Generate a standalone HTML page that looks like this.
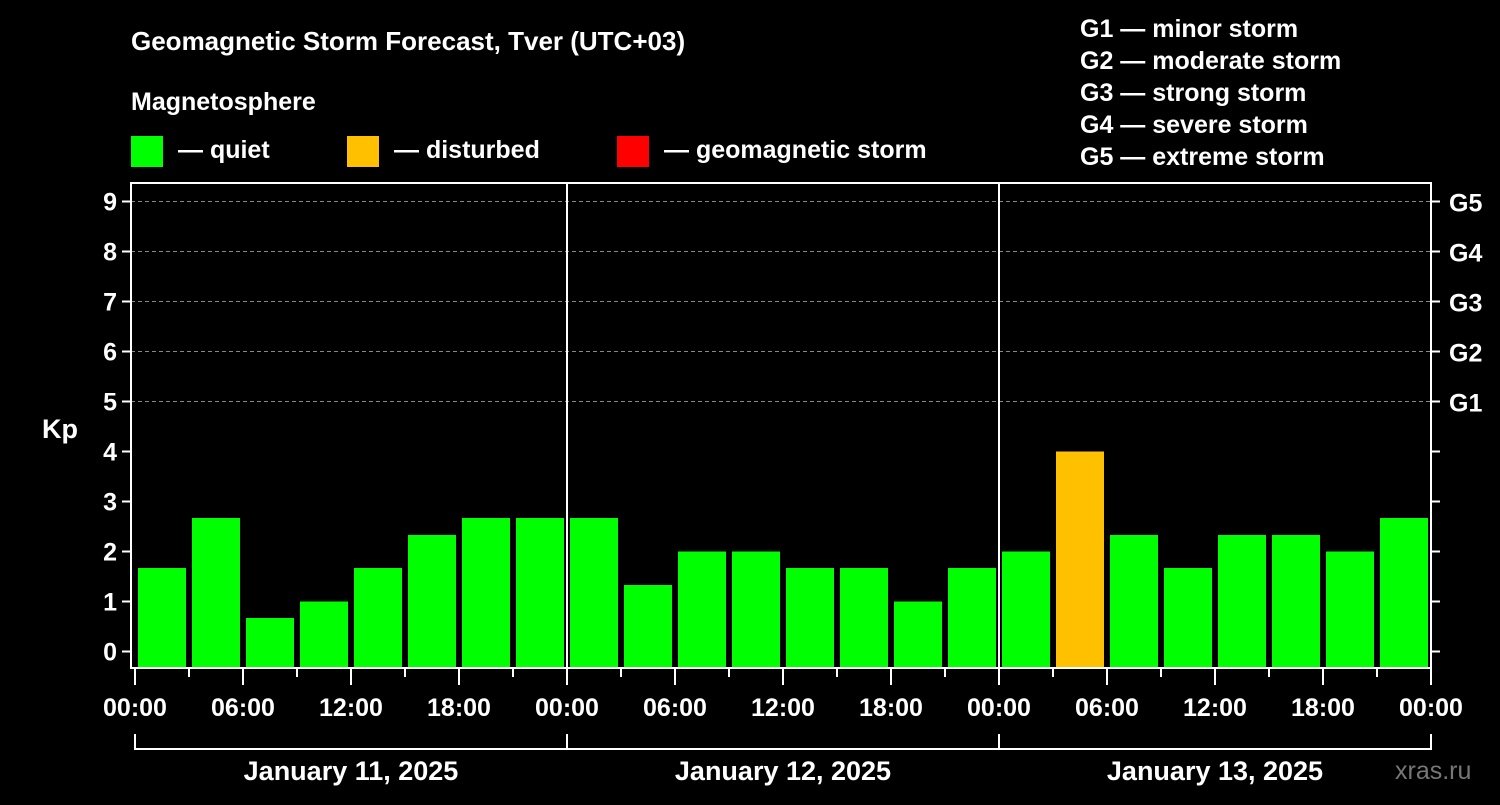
<!DOCTYPE html>
<html><head><meta charset="utf-8"><style>
body{margin:0;background:#000;width:1500px;height:800px;overflow:hidden}
svg text{font-family:"Liberation Sans",sans-serif;font-weight:bold;fill:#fff}
</style></head><body>
<svg id="c" width="1500" height="800">
<text x="131" y="50" font-size="26">Geomagnetic Storm Forecast, Tver (UTC+03)</text>
<text x="131" y="110" font-size="25">Magnetosphere</text>
<g>
<rect x="131" y="136" width="32" height="31" fill="#00ff00"/>
<text x="178" y="158" font-size="25">— quiet</text>
<rect x="347" y="136" width="32" height="31" fill="#ffc000"/>
<text x="394" y="158" font-size="25">— disturbed</text>
<rect x="617" y="136" width="32" height="31" fill="#ff0000"/>
<text x="664" y="158" font-size="25">— geomagnetic storm</text>
</g>
<g font-size="25">
<text x="1080" y="37">G1 — minor storm</text>
<text x="1080" y="69">G2 — moderate storm</text>
<text x="1080" y="101">G3 — strong storm</text>
<text x="1080" y="133">G4 — severe storm</text>
<text x="1080" y="165">G5 — extreme storm</text>
</g>
<text x="42" y="438" font-size="27">Kp</text>
<text x="1395" y="779" font-size="25" fill="#777" style="fill:#777;font-weight:normal">xras.ru</text>
<g id="plot"></g>
</svg>
<script>
const kpValues=[1.67,2.67,0.67,1,1.67,2.33,2.67,2.67, 2.67,1.33,2,2,1.67,1.67,1,1.67, 2,4,2.33,1.67,2.33,2.33,2,2.67];
const dayLabels=["January 11, 2025","January 12, 2025","January 13, 2025"];
const timeLabels=["00:00","06:00","12:00","18:00"];
const yTicks=[0,1,2,3,4,5,6,7,8,9];
const gLabels=["G1","G2","G3","G4","G5"];
const NS="http://www.w3.org/2000/svg";
const L=131,R=1431,T=183,B=668;
const x=h=>135+h*18;
const y=v=>651.5-v*50;
const g=document.getElementById('plot');
function mk(t,a){const e=document.createElementNS(NS,t);for(const k in a)e.setAttribute(k,a[k]);g.appendChild(e);return e;}
yTicks.forEach(v=>{
 if(v>=5){const l=mk('line',{x1:L,x2:R,y1:y(v),y2:y(v),stroke:'#888','stroke-dasharray':'4,3','stroke-width':1});
 
 }
 const t=mk('line',{x1:L-9,x2:L,y1:y(v),y2:y(v),stroke:'#fff','stroke-width':2});
 
 
 const rt=mk('line',{x1:R,x2:R+9,y1:y(v),y2:y(v),stroke:'#fff','stroke-width':2});
 
 
 const tx=mk('text',{x:L-14,y:y(v)+9,'font-size':25,'text-anchor':'end'});tx.textContent=v;
 
 
});
gLabels.forEach((s,i)=>{const tx=mk('text',{x:1449,y:y(5+i)+10,'font-size':25});tx.textContent=s;
 
 });
kpValues.forEach((v,i)=>{
 const c=v>=5?'#ff0000':v>=4?'#ffc000':'#00ff00';
 const r=mk('rect',{x:x(i*3)+3,y:y(v),width:48,height:B-y(v),fill:c});
 
 
});
const fr=mk('rect',{x:L,y:T,width:R-L,height:B-T,fill:'none',stroke:'#fff','stroke-width':2});


[1,2].forEach(d=>{const l=mk('line',{x1:x(d*24),x2:x(d*24),y1:T,y2:B,stroke:'#fff','stroke-width':2});
 
 });
for(let k=0;k<=24;k++){
 const maj=k%2==0;
 const l=mk('line',{x1:x(k*3),x2:x(k*3),y1:B,y2:B+(maj?17:9),stroke:'#fff','stroke-width':2});
 
 
 if(maj){const tx=mk('text',{x:x(k*3),y:716,'font-size':25,'text-anchor':'middle'});tx.textContent=timeLabels[(k/2)%4];
 
 }
}
dayLabels.forEach((s,d)=>{
 const p=mk('path',{d:`M${x(d*24)} 734V749H${x(d*24+24)}V734`,fill:'none',stroke:'#fff','stroke-width':2});
 
 
 const tx=mk('text',{x:x(d*24+12),y:780,'font-size':27,'text-anchor':'middle'});tx.textContent=s;
 
 
});
</script>
</body></html>
